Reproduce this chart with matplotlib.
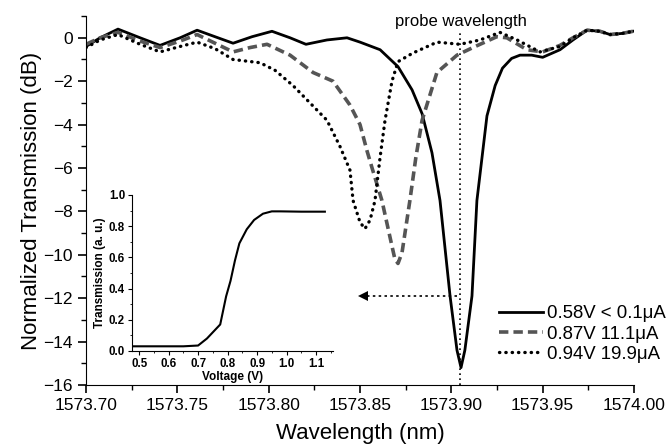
import matplotlib
matplotlib.use('Agg')
import matplotlib.pyplot as plt
from matplotlib.ticker import MultipleLocator

plt.rcParams['font.family'] = ['Liberation Sans', 'DejaVu Sans']

# spectra (wavelength nm, transmission dB)
wl_058 = [1573.7000, 1573.7077, 1573.7175, 1573.7296, 1573.7405, 1573.7515, 1573.7608, 1573.7706,
          1573.7805, 1573.7909, 1573.8018, 1573.8117, 1573.8204, 1573.8319, 1573.8429, 1573.8500,
          1573.8610, 1573.8708, 1573.8785, 1573.8840, 1573.8894, 1573.8938, 1573.8993, 1573.9031,
          1573.9053, 1573.9074, 1573.9113, 1573.9140, 1573.9195, 1573.9240, 1573.9280, 1573.9330,
          1573.9376, 1573.9440, 1573.9500, 1573.9595, 1573.9666, 1573.9743, 1573.9814, 1573.9869,
          1573.9934, 1573.9995]
db_058 = [-0.4, 0.0, 0.4, 0.0, -0.35, 0.0, 0.35, 0.05,
          -0.25, 0.05, 0.3, 0.0, -0.3, -0.1, 0.0, -0.2,
          -0.55, -1.33, -2.4, -3.5, -5.3, -7.5, -11.9, -14.4,
          -15.2, -14.4, -11.9, -7.5, -3.6, -2.2, -1.4, -0.95,
          -0.8, -0.8, -0.9, -0.55, -0.1, 0.35, 0.3, 0.15,
          0.2, 0.3]

wl_087 = [1573.7000, 1573.7077, 1573.7175, 1573.7296, 1573.7405, 1573.7515, 1573.7608, 1573.7706,
          1573.7805, 1573.7898, 1573.7991, 1573.8117, 1573.8243, 1573.8352, 1573.8445, 1573.8500,
          1573.8538, 1573.8566, 1573.8620, 1573.8675, 1573.8691, 1573.8708, 1573.8730, 1573.8773,
          1573.8806, 1573.8840, 1573.8921, 1573.9031, 1573.9118, 1573.9249, 1573.9304, 1573.9414,
          1573.9500, 1573.9595, 1573.9666, 1573.9743, 1573.9814, 1573.9869, 1573.9934, 1573.9995]
db_087 = [-0.3, 0.0, 0.25, -0.15, -0.45, -0.15, 0.15, -0.25,
          -0.65, -0.45, -0.3, -0.8, -1.6, -2.0, -3.1, -4.0,
          -5.2, -6.0, -7.5, -9.6, -10.2, -10.4, -9.9, -7.5,
          -5.5, -3.8, -1.6, -0.8, -0.45, 0.05, 0.0, -0.55,
          -0.65, -0.35, 0.0, 0.35, 0.3, 0.15, 0.2, 0.3]

wl_094 = [1573.7000, 1573.7077, 1573.7175, 1573.7296, 1573.7405, 1573.7515, 1573.7608, 1573.7706,
          1573.7805, 1573.7953, 1573.8035, 1573.8133, 1573.8226, 1573.8319, 1573.8390, 1573.8445,
          1573.8462, 1573.8500, 1573.8527, 1573.8555, 1573.8582, 1573.8610, 1573.8637, 1573.8675,
          1573.8708, 1573.8790, 1573.8922, 1573.9047, 1573.9157, 1573.9266, 1573.9360, 1573.9485,
          1573.9595, 1573.9666, 1573.9743, 1573.9814, 1573.9869, 1573.9934, 1573.9995]
db_094 = [-0.45, -0.1, 0.15, -0.3, -0.65, -0.4, -0.2, -0.5,
          -1.0, -1.15, -1.5, -2.2, -3.0, -3.8, -5.0, -6.1,
          -7.5, -8.5, -8.8, -8.4, -7.5, -5.5, -3.8, -2.0,
          -1.1, -0.7, -0.2, -0.3, -0.1, 0.25, -0.1, -0.65,
          -0.4, 0.0, 0.35, 0.3, 0.15, 0.2, 0.3]

labels = ['0.58V < 0.1\u03bcA', '0.87V 11.1\u03bcA', '0.94V 19.9\u03bcA']

probe_wl = 1573.905
arrow_db = -11.9
arrow_end = 1573.8516

# inset: transmission vs voltage
volt = [0.48, 0.55, 0.65, 0.70, 0.73, 0.755, 0.775, 0.795, 0.81, 0.825, 0.84, 0.865,
        0.89, 0.92, 0.95, 0.98, 1.05, 1.13]
trans = [0.03, 0.03, 0.03, 0.035, 0.08, 0.13, 0.17, 0.35, 0.45, 0.58, 0.69, 0.78,
         0.84, 0.88, 0.895, 0.895, 0.893, 0.893]

fig = plt.figure(figsize=(6.67, 4.47), dpi=100)
ax = fig.add_axes([0.129, 0.1387, 0.8215, 0.8253])

ax.plot(wl_058, db_058, color='black', lw=2.0, label=labels[0])
ax.plot(wl_087, db_087, color='#555555', lw=2.6, ls=(0, (2.6, 1.4)), label=labels[1])
ax.plot(wl_094, db_094, color='black', lw=2.4, ls=(0, (0.1, 1.8)), dash_capstyle='round',
        label=labels[2])

ax.vlines(probe_wl, -16, 0.3, colors='black', linestyles=(0, (1, 2)), lw=1.2)
ax.text(probe_wl, 0.75, 'probe wavelength', ha='center', va='center', fontsize=12)
ax.plot([arrow_end + 0.002, probe_wl], [arrow_db, arrow_db], color='black', lw=1.2,
        ls=(0, (1.5, 2)))
ax.plot([arrow_end], [arrow_db], marker='<', color='black', ms=7, mew=0)

ax.set_xlim(1573.70, 1574.00)
ax.set_ylim(-16, 1)
ax.xaxis.set_major_locator(MultipleLocator(0.05))
ax.xaxis.set_minor_locator(MultipleLocator(0.025))
ax.yaxis.set_major_locator(MultipleLocator(2))
ax.yaxis.set_minor_locator(MultipleLocator(1))
ax.xaxis.set_major_formatter(matplotlib.ticker.FormatStrFormatter('%.2f'))
ax.spines['top'].set_visible(False)
ax.spines['right'].set_visible(False)
ax.tick_params(which='major', direction='out', length=6, width=1.2, labelsize=12.5)
ax.tick_params(which='minor', direction='out', length=3.5, width=1.0)
ax.set_xlabel('Wavelength (nm)', fontsize=16, labelpad=7)
ax.set_ylabel('Normalized Transmission (dB)', fontsize=16, labelpad=1)

leg = ax.legend(loc='lower right', bbox_to_anchor=(1.058, 0.06), frameon=False, fontsize=13.4,
                handlelength=2.4, handletextpad=0.2, labelspacing=0.17, borderaxespad=0,
                borderpad=0)

ins = fig.add_axes([0.198, 0.2148, 0.301, 0.349])
ins.plot(volt, trans, color='black', lw=1.5)
ins.set_xlim(0.476, 1.157)
ins.set_ylim(0, 1.0)
ins.xaxis.set_major_locator(MultipleLocator(0.1))
ins.xaxis.set_minor_locator(MultipleLocator(0.05))
ins.yaxis.set_major_locator(MultipleLocator(0.2))
ins.yaxis.set_minor_locator(MultipleLocator(0.1))
ins.spines['top'].set_visible(False)
ins.spines['right'].set_visible(False)
ins.tick_params(which='major', direction='out', length=3, width=0.8, labelsize=8.3, pad=2)
ins.tick_params(which='minor', direction='out', length=1.5, width=0.6)
for lab in ins.get_xticklabels() + ins.get_yticklabels():
    lab.set_fontweight('bold')
ins.set_xlabel('Voltage (V)', fontsize=8.5, fontweight='bold', labelpad=1)
ins.set_ylabel('Transmission (a. u.)', fontsize=8.5, fontweight='bold', labelpad=2)
ins.patch.set_alpha(0)

fig.savefig('out.png', dpi=100)
